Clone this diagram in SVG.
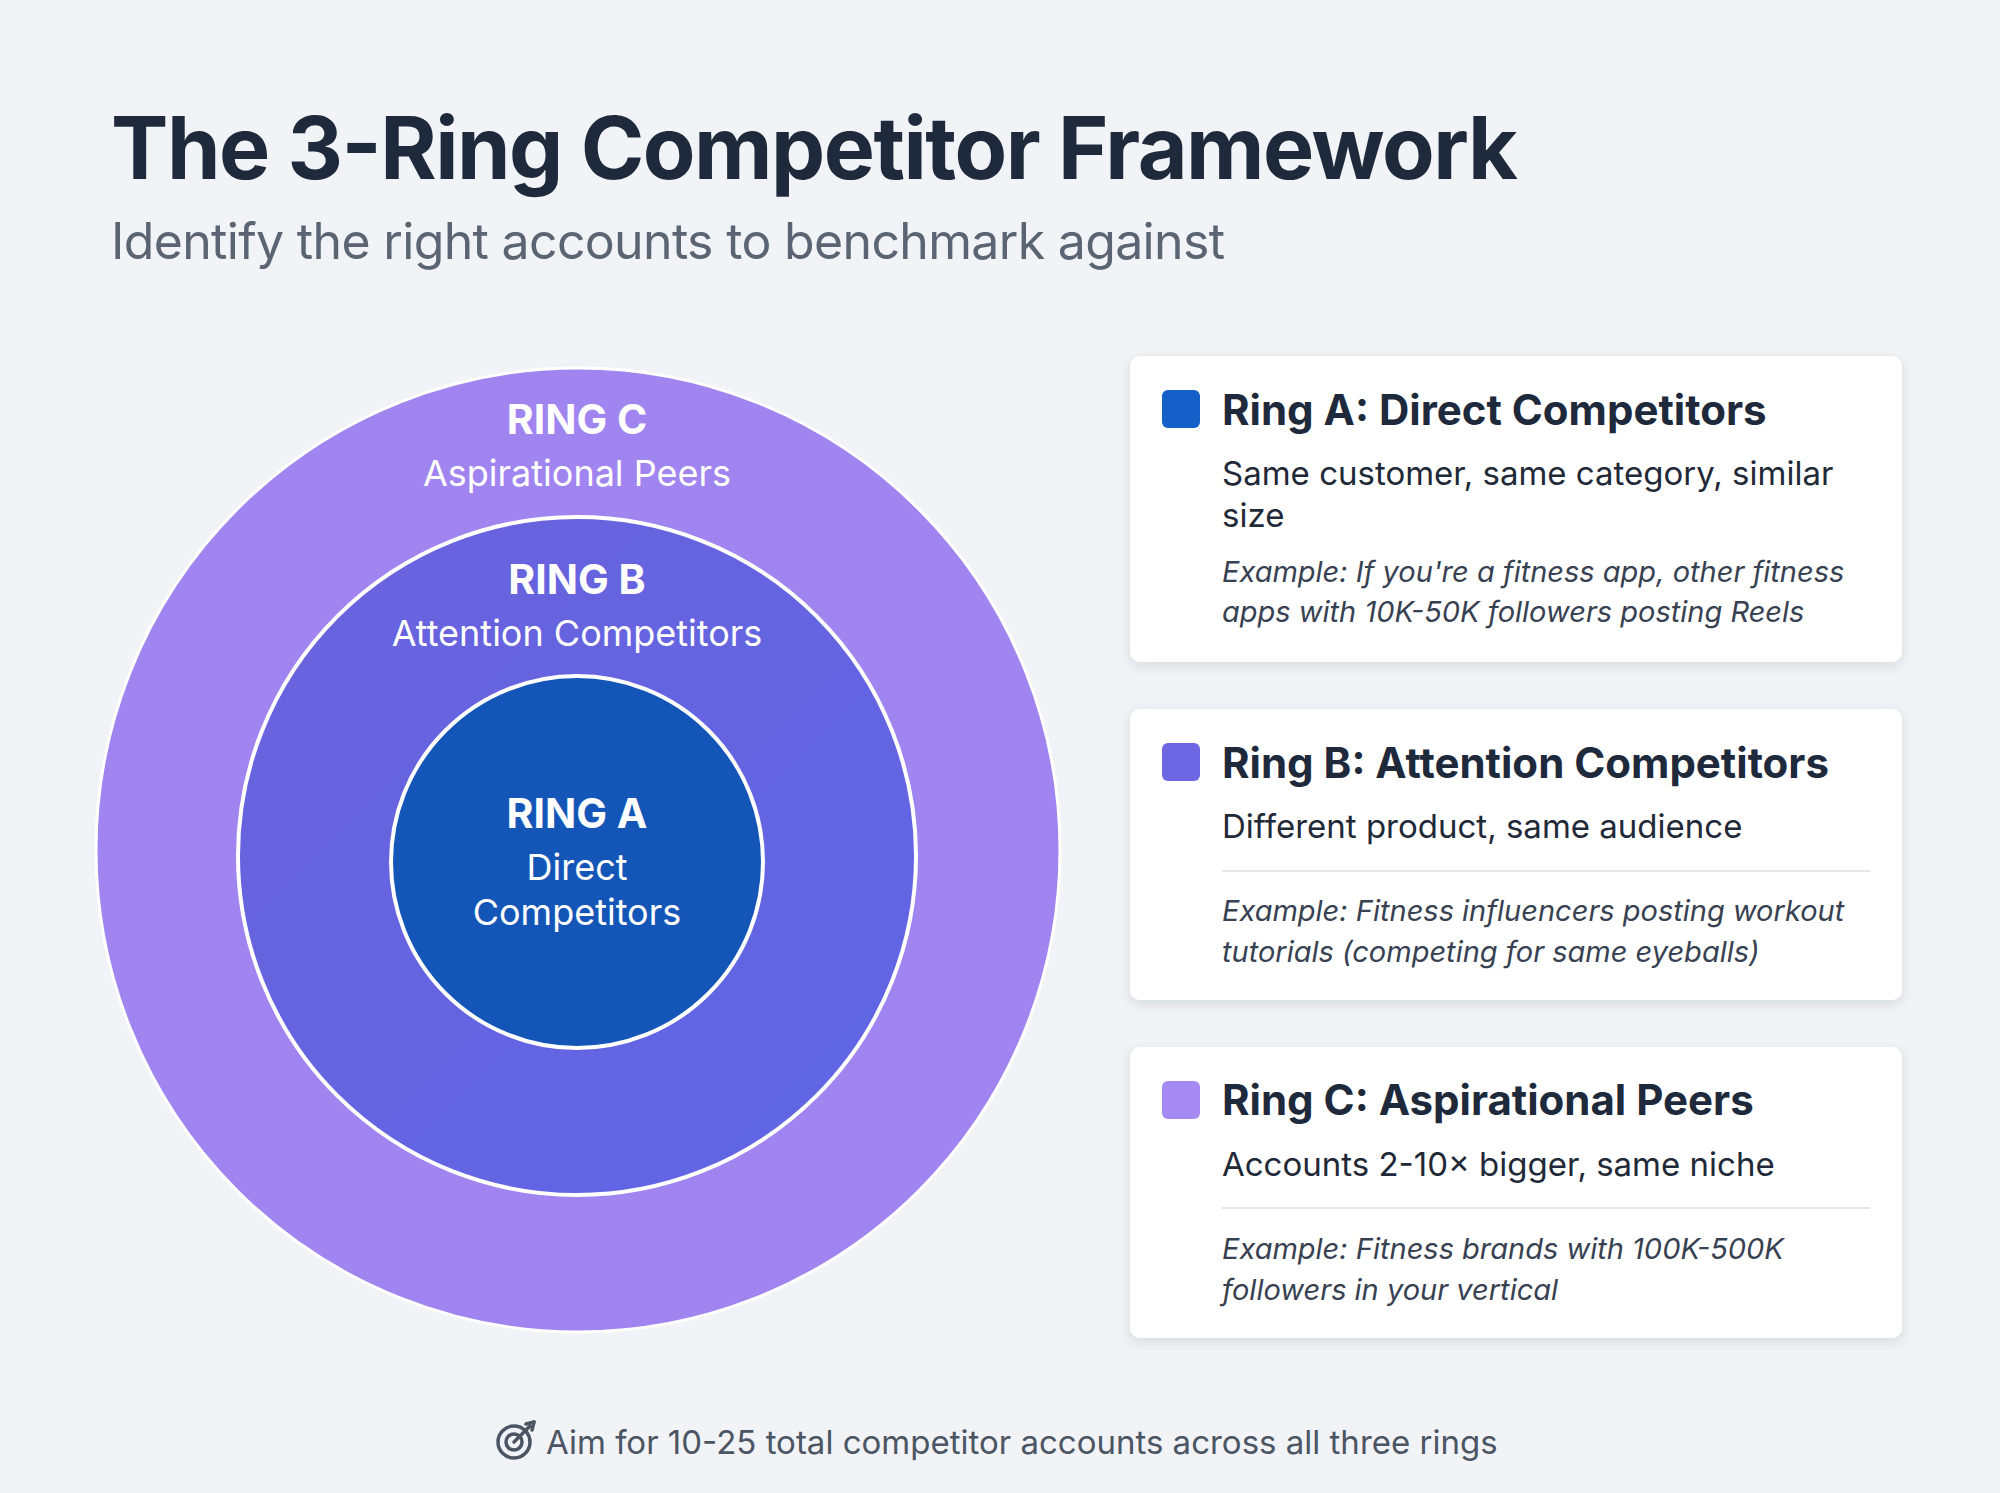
<svg xmlns="http://www.w3.org/2000/svg" width="2000" height="1493" viewBox="0 0 2000 1493">
<defs>
<linearGradient id="gb" x1="0" y1="0" x2="1" y2="1"><stop offset="0" stop-color="#6A62DC"/><stop offset="1" stop-color="#5F66E6"/></linearGradient>
<filter id="sh" x="-10%" y="-10%" width="120%" height="130%"><feDropShadow dx="0" dy="4" stdDeviation="6" flood-color="#1e293b" flood-opacity="0.12"/></filter>
</defs>
<style>
text{font-family:Inter,"Liberation Sans",sans-serif}
.rl{font-weight:700;font-size:41px;fill:#fff;text-anchor:middle}
.rs{font-size:36px;fill:#fff;text-anchor:middle}
.card{fill:#fff;filter:url(#sh)}
.ct{font-weight:700;font-size:42px;fill:#1e293b}
.cd{font-size:33px;fill:#1f2937}
.ce{font-size:29px;font-style:italic;fill:#374151}
.dv{stroke:#e5e7eb;stroke-width:2}
</style>
<rect width="2000" height="1493" fill="#F1F3F7"/>
<text x="111" y="179" font-size="86" font-weight="700" fill="#1e293b" textLength="1407">The 3-Ring Competitor Framework</text>
<text x="111" y="259" font-size="50" fill="#5b6472" textLength="1114">Identify the right accounts to benchmark against</text>
<g id="ringC"><circle cx="578" cy="850" r="482" fill="#A084F0" stroke="#fff" stroke-width="3"/>
<text class="rl" x="577" y="434">RING C</text><text class="rs" x="577" y="486">Aspirational Peers</text></g>
<g id="ringB"><circle cx="577" cy="856" r="339" fill="url(#gb)" stroke="#fff" stroke-width="4"/>
<text class="rl" x="577" y="594">RING B</text><text class="rs" x="577" y="646">Attention Competitors</text></g>
<g id="ringA"><circle cx="577" cy="862" r="186" fill="#1456B8" stroke="#fff" stroke-width="4"/>
<text class="rl" x="577" y="828">RING A</text><text class="rs" x="577" y="880">Direct</text><text class="rs" x="577" y="925">Competitors</text></g>
<g id="cardA"><rect class="card" x="1130" y="356" width="772" height="306" rx="10"/>
<rect x="1162" y="390" width="38" height="38" rx="6" fill="#1460C8"/>
<text class="ct" x="1222" y="425">Ring A: Direct Competitors</text>
<text class="cd" x="1222" y="485">Same customer, same category, similar</text>
<text class="cd" x="1222" y="527">size</text>
<text class="ce" x="1222" y="582">Example: If you're a fitness app, other fitness</text>
<text class="ce" x="1222" y="622">apps with 10K-50K followers posting Reels</text></g>
<g id="cardB"><rect class="card" x="1130" y="709" width="772" height="291" rx="10"/>
<rect x="1162" y="743" width="38" height="38" rx="6" fill="#6C66E2"/>
<text class="ct" x="1222" y="778">Ring B: Attention Competitors</text>
<text class="cd" x="1222" y="838">Different product, same audience</text>
<line class="dv" x1="1222" y1="871" x2="1870" y2="871"/>
<text class="ce" x="1222" y="921">Example: Fitness influencers posting workout</text>
<text class="ce" x="1222" y="962">tutorials (competing for same eyeballs)</text></g>
<g id="cardC"><rect class="card" x="1130" y="1047" width="772" height="291" rx="10"/>
<rect x="1162" y="1081" width="38" height="38" rx="6" fill="#A48AF2"/>
<text class="ct" x="1222" y="1115">Ring C: Aspirational Peers</text>
<text class="cd" x="1222" y="1176">Accounts 2-10× bigger, same niche</text>
<line class="dv" x1="1222" y1="1208" x2="1870" y2="1208"/>
<text class="ce" x="1222" y="1259">Example: Fitness brands with 100K-500K</text>
<text class="ce" x="1222" y="1300">followers in your vertical</text></g>
<g id="footer" fill="none" stroke="#4b5563" stroke-width="3.5" stroke-linecap="round">
<circle cx="514" cy="1442" r="16"/><circle cx="514" cy="1442" r="8"/><line x1="514" y1="1442" x2="530" y2="1426"/><line x1="526" y1="1424" x2="534" y2="1422"/><line x1="532" y1="1430" x2="534" y2="1422"/>
</g>
<text x="546" y="1454" font-size="33" fill="#4b5563">Aim for 10-25 total competitor accounts across all three rings</text>
</svg>
